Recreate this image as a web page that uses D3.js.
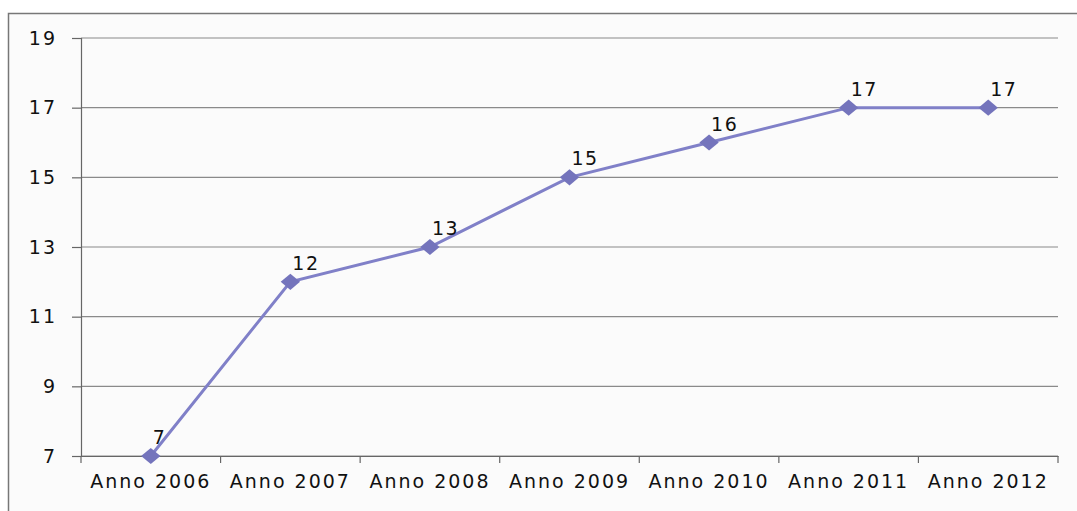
<!DOCTYPE html>
<html>
<head>
<meta charset="utf-8">
<script src="https://cdn.jsdelivr.net/npm/d3@7"></script>
<style>
  body { margin: 0; background: #fff; }
  text { font-family: "DejaVu Sans", Verdana, sans-serif; fill: #111; }
</style>
</head>
<body>
<div id="graph"></div>
<script>
// Chart data
var categories = ['Anno 2006', 'Anno 2007', 'Anno 2008', 'Anno 2009', 'Anno 2010', 'Anno 2011', 'Anno 2012'];
var values = [7, 12, 13, 15, 16, 17, 17];
var yTicks = [7, 9, 11, 13, 15, 17, 19];

var width = 1077, height = 511;
var plotLeft = 81, plotRight = 1058, plotTop = 38, plotBottom = 456;

var svg = d3.select('#graph')
    .append('svg')
    .attr('width', width)
    .attr('height', height);

// outer frame
svg.append('rect')
    .attr('x', 8.5).attr('y', 13.5)
    .attr('width', 1100).attr('height', 600)
    .attr('fill', '#fbfbfb')
    .attr('stroke', '#777').attr('stroke-width', 1.5);

var x = d3.scaleBand().domain(categories).range([plotLeft, plotRight]);
var y = d3.scaleLinear().domain([7, 19]).range([plotBottom, plotTop]);

// horizontal gridlines
svg.append('g')
    .selectAll('line')
    .data(yTicks)
    .enter()
    .append('line')
    .attr('x1', plotLeft).attr('x2', plotRight)
    .attr('y1', function(d){ return y(d); })
    .attr('y2', function(d){ return y(d); })
    .attr('stroke', '#8a8a8a').attr('stroke-width', 1.2);

// y axis
var yAxis = svg.append('g')
    .attr('transform', 'translate(' + plotLeft + ',0)')
    .call(d3.axisLeft(y).tickValues(yTicks).tickSize(9).tickPadding(15));
yAxis.selectAll('text').style('font-size', '19px').style('letter-spacing', '2px').attr('fill', '#111');

// x axis with ticks between categories
var xAxis = svg.append('g')
    .attr('transform', 'translate(0,' + plotBottom + ')')
    .call(d3.axisBottom(x).tickSize(0).tickPadding(19));
xAxis.selectAll('text').style('font-size', '19px').style('letter-spacing', '2px').attr('fill', '#111');

var edges = categories.map(function(d){ return x(d); }).concat([plotRight]);
svg.append('g')
    .selectAll('line')
    .data(edges)
    .enter()
    .append('line')
    .attr('x1', function(d){ return d; }).attr('x2', function(d){ return d; })
    .attr('y1', plotBottom).attr('y2', plotBottom + 7)
    .attr('stroke', '#666').attr('stroke-width', 1.2);

svg.selectAll('.domain').attr('stroke', '#666').attr('stroke-width', 1.2);
svg.selectAll('.tick line').attr('stroke', '#666').attr('stroke-width', 1.2);

function cx(d, i){ return x(categories[i]) + x.bandwidth() / 2; }

// line
var line = d3.line()
    .x(function(d, i){ return cx(d, i); })
    .y(function(d){ return y(d); });

svg.append('path')
    .datum(values)
    .attr('d', line)
    .attr('fill', 'none')
    .attr('stroke', '#8080c8')
    .attr('stroke-width', 3);

// diamond markers (rotated squares, slightly wide)
svg.append('g')
    .selectAll('path')
    .data(values)
    .enter()
    .append('path')
    .attr('d', d3.symbol().type(d3.symbolSquare).size(130))
    .attr('transform', function(d, i){
      return 'translate(' + cx(d, i) + ',' + y(d) + ') scale(1.2,1) rotate(45)';
    })
    .attr('fill', '#7474bc');

// data labels
svg.append('g')
    .selectAll('text')
    .data(values)
    .enter()
    .append('text')
    .attr('x', function(d, i){ return cx(d, i) + 2; })
    .attr('y', function(d){ return y(d) - 12; })
    .style('font-size', '19px')
    .style('letter-spacing', '1.5px')
    .text(function(d){ return d; });
</script>
</body>
</html>
